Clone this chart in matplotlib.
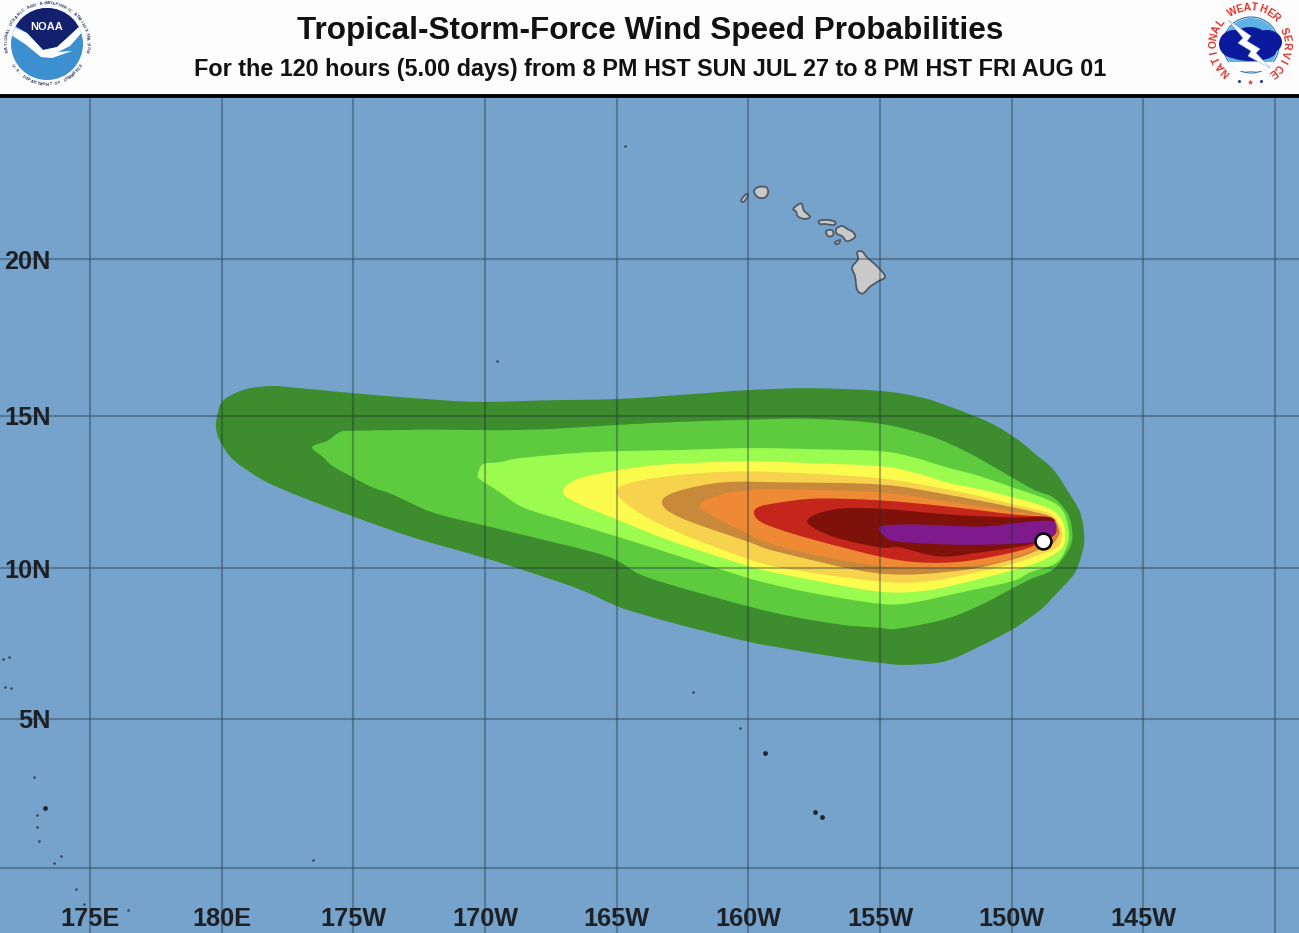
#!/usr/bin/env python3
# -*- coding: utf-8 -*-
"""
TROPICAL-STORM-FORCE WIND SPEED PROBABILITIES MAP
"""

# %% SETUP

import numpy as np
import matplotlib
matplotlib.use("Agg")
import matplotlib.pyplot as plt
from matplotlib.patches import Circle, Ellipse, PathPatch, Polygon
from matplotlib.path import Path

plt.rcParams['font.family'] = ['Liberation Sans', 'DejaVu Sans']

# %% DATA

title = "Tropical-Storm-Force Wind Speed Probabilities"
subtitle = "For the 120 hours (5.00 days) from 8 PM HST SUN JUL 27 to 8 PM HST FRI AUG 01"

# grid positions, longitude runs continuously past 180
grid_lon = [175, 180, 185, 190, 195, 200, 205, 210, 215, 220]
grid_lat = [0, 5, 10, 15, 20]
lon_labels = ["175E", "180E", "175W", "170W", "165W", "160W", "155W", "150W", "145W"]
lat_labels = ["5N", "10N", "15N", "20N"]

# probability bands, outermost first, traced clockwise from the western tip
band1_lon = [179.78, 179.86, 180.01, 180.43, 181.07, 181.95, 182.97, 184.99, 187.27, 189.69, 192.47, 195.01,
             197.40, 200.02, 202.34, 205.0, 206.52, 207.66, 209.18, 210.2, 210.9, 211.57,
             212.14, 212.6, 212.75, 212.71, 212.41, 211.84, 211.19, 210.58, 210.01, 208.68, 207.39,
             205.87, 205.0, 203.59, 201.7, 199.99, 197.4, 195.89, 195.01, 193.61, 191.71, 189.81,
             187.27, 184.99, 182.97, 181.72, 180.81, 180.31, 179.93]
band1_lat = [14.64, 15.13, 15.45, 15.7, 15.89, 15.96, 15.89, 15.73, 15.57, 15.45, 15.5, 15.54,
             15.67, 15.83, 15.89, 15.8, 15.6, 15.29, 14.77, 14.24, 13.75, 13.26,
             12.53, 11.84, 11.12, 10.63, 9.87, 9.3, 8.7, 8.3, 7.97, 7.37, 6.9,
             6.8, 6.87, 7.03, 7.3, 7.57, 8.13, 8.5, 8.75, 9.3, 9.87, 10.39,
             11.02, 11.71, 12.37, 12.83, 13.32, 13.68, 14.18]

band2_lon = [183.43, 184.0, 184.49, 184.99, 187.04, 188.02, 190.57, 192.47, 195.01, 197.40,
             200.02, 202.34, 205.0, 206.9, 208.3, 209.67, 210.81, 211.57, 212.1, 212.29, 212.22,
             211.57, 210.7, 210.01, 208.68, 207.39, 205.65, 205.0, 203.59, 201.7, 200.06,
             197.4, 195.89, 194.63, 191.71, 190.0, 188.02, 186.5, 185.74, 184.99, 184.22, 183.85]
band2_lat = [13.98, 14.18, 14.47, 14.51, 14.54, 14.55, 14.53, 14.57, 14.70, 14.80,
             14.87, 14.9, 14.74, 14.34, 13.82, 13.16, 12.6, 12.34, 11.84, 11.28, 10.72,
             9.97, 9.64, 9.33, 8.73, 8.3, 8.0, 8.03, 8.13, 8.4, 8.73,
             9.37, 9.8, 10.4, 11.05, 11.41, 11.84, 12.43, 12.66, 12.99, 13.36, 13.65]

band3_lon = [189.73, 189.92, 190.57, 191.33, 193.34, 195.01, 197.14, 199.99, 202.53, 205.0, 206.25,
             207.54, 208.8, 210.05, 211.34, 211.91, 212.14, 212.14, 211.72, 210.7, 209.99, 208.04,
             206.25, 205.0, 202.34, 200.44, 199.19, 196.91, 195.01, 193.11, 191.44, 190.57, 189.81]
band3_lat = [13.09, 13.42, 13.49, 13.62, 13.78, 13.85, 13.88, 13.95, 13.91, 13.85, 13.65,
             13.32, 13.03, 12.66, 12.27, 11.94, 11.38, 10.86, 10.2, 9.87, 9.57, 9.2,
             8.87, 8.83, 9.2, 9.57, 9.9, 10.53, 11.05, 11.55, 12.01, 12.5, 12.93]

band4_lon = [192.96, 193.49, 195.01, 196.91, 199.99, 202.53, 205.0, 206.25, 207.54, 208.8, 210.05,
             211.34, 211.84, 212.03, 211.95, 211.46, 210.58, 208.68, 206.79, 205.0, 202.34, 200.44,
             199.19, 196.91, 195.01, 193.61]
band4_lat = [12.5, 12.93, 13.22, 13.42, 13.52, 13.45, 13.36, 13.16, 12.83, 12.6, 12.34,
             12.0, 11.68, 11.22, 10.72, 10.39, 10.07, 9.63, 9.27, 9.23, 9.63, 9.97,
             10.3, 10.95, 11.61, 12.11]

band5_lon = [195.01, 196.15, 198.66, 201.2, 205.0, 207.54, 208.8, 210.05, 211.34, 211.72,
             211.91, 211.76, 211.08, 209.94, 208.68, 206.79, 205.0, 201.2, 199.19, 196.91, 195.5]
band5_lat = [12.6, 12.93, 13.16, 13.16, 12.96, 12.6, 12.37, 12.11, 11.84, 11.55,
             11.18, 10.72, 10.46, 10.13, 9.87, 9.57, 9.57, 10.03, 10.56, 11.35, 12.04]

band6_lon = [196.72, 197.29, 199.04, 201.2, 205.0, 207.54, 210.05, 211.46, 211.76, 211.8,
             211.53, 211.08, 210.05, 208.04, 205.0, 201.2, 199.95, 197.4]
band6_lat = [12.17, 12.53, 12.83, 12.83, 12.76, 12.43, 12.01, 11.71, 11.38, 11.12,
             10.79, 10.63, 10.3, 9.93, 9.83, 10.53, 10.89, 11.68]

band7_lon = [198.16, 198.92, 199.95, 201.2, 205.0, 207.54, 210.05, 211.34, 211.65, 211.68, 211.38,
             210.7, 209.44, 207.54, 205.0, 201.2, 199.42]
band7_lat = [12.04, 12.43, 12.56, 12.6, 12.5, 12.2, 11.88, 11.71, 11.45, 11.12, 10.79,
             10.56, 10.2, 10.03, 10.07, 10.72, 11.38]

band8_lon = [200.21, 200.44, 201.2, 202.61, 205.0, 207.54, 210.05, 211.46, 211.65, 211.65, 210.96,
             210.05, 208.15, 206.52, 205.0, 202.46, 201.2, 200.44]
band8_lat = [11.84, 12.04, 12.17, 12.3, 12.24, 12.04, 11.78, 11.68, 11.45, 11.12, 10.79,
             10.53, 10.23, 10.2, 10.39, 10.95, 11.28, 11.55]

band9_lon = [202.23, 203.21, 205.0, 207.54, 210.05, 211.46, 211.61, 211.61, 210.96, 210.32,
             208.8, 207.28, 205.76, 205.0, 203.21]
band9_lat = [11.55, 11.94, 11.97, 11.78, 11.68, 11.68, 11.28, 11.12, 10.86, 10.72,
             10.53, 10.39, 10.69, 10.69, 11.05]

band10_lon = [205.0, 206.25, 208.8, 210.32, 211.57, 211.61, 211.08, 209.44, 207.54, 205.65, 205.19]
band10_lat = [11.38, 11.45, 11.38, 11.51, 11.55, 11.12, 10.89, 10.79, 10.79, 10.89, 11.05]

bands = [(band1_lon, band1_lat), (band2_lon, band2_lat), (band3_lon, band3_lat),
         (band4_lon, band4_lat), (band5_lon, band5_lat), (band6_lon, band6_lat),
         (band7_lon, band7_lat), (band8_lon, band8_lat), (band9_lon, band9_lat),
         (band10_lon, band10_lat)]
band_colors = ['#3d8c2e', '#5ecb3e', '#9bfb4e', '#fbfb4d', '#f7d24c',
               '#c8893a', '#ee8a33', '#c4261b', '#7e1109', '#7f1a8c']

# storm position
storm_lon = [211.19]
storm_lat = [10.92]

# main Hawaiian islands
big_island_lon = [204.13, 204.32, 204.51, 204.89, 205.19, 204.92, 204.62, 204.35, 204.13, 204.05, 203.94, 204.16]
big_island_lat = [20.22, 20.25, 20.06, 19.78, 19.46, 19.30, 19.14, 18.92, 19.04, 19.46, 19.75, 20.0]
maui_lon = [203.33, 203.56, 203.75, 203.97, 204.05, 203.75, 203.56, 203.37]
maui_lat = [20.96, 21.05, 20.96, 20.86, 20.70, 20.57, 20.73, 20.80]
molokai_lon = [202.68, 202.99, 203.29, 203.25, 202.91, 202.72]
molokai_lat = [21.21, 21.24, 21.18, 21.08, 21.11, 21.11]
lanai_lon = [202.95, 203.18, 203.22, 203.03]
lanai_lat = [20.89, 20.92, 20.76, 20.73]
kahoolawe_lon = [203.29, 203.48, 203.44, 203.33]
kahoolawe_lat = [20.54, 20.61, 20.51, 20.48]
oahu_lon = [201.70, 202.0, 202.11, 202.34, 202.15, 201.89, 201.81]
oahu_lat = [21.59, 21.75, 21.53, 21.34, 21.27, 21.34, 21.50]
kauai_lon = [200.21, 200.37, 200.67, 200.75, 200.63, 200.37]
kauai_lat = [22.13, 22.26, 22.26, 22.10, 21.94, 21.94]
niihau_lon = [199.72, 199.91, 199.99, 199.83]
niihau_lat = [21.85, 22.04, 22.0, 21.81]
islands = [(big_island_lon, big_island_lat), (maui_lon, maui_lat), (molokai_lon, molokai_lat),
           (lanai_lon, lanai_lat), (kahoolawe_lon, kahoolawe_lat), (oahu_lon, oahu_lat),
           (kauai_lon, kauai_lat), (niihau_lon, niihau_lat)]

# little atolls scattered over the rest of the map
atoll_lon = [195.32, 190.46, 197.9, 199.68, 171.68, 171.92, 172.0, 171.77,
             172.87, 172.98, 172.98, 173.06, 173.9, 173.63, 174.47, 174.77, 176.44, 183.47]
atoll_lat = [23.53, 16.75, 5.9, 4.7, 6.98, 7.05, 6.03, 6.07,
             3.05, 1.78, 1.38, 0.9, 0.4, 0.17, -0.7, -1.2, -1.4, 0.27]
# the few that show as a proper dot
big_atoll_lon = [200.63, 202.53, 202.8, 173.29]
big_atoll_lat = [3.86, 1.88, 1.71, 2.0]


# %% HELPERS

def merc(lat):
    return np.degrees(np.log(np.tan(np.pi / 4 + np.radians(np.asarray(lat, dtype=float)) / 2)))


def inv_merc(y):
    return np.degrees(2 * np.arctan(np.exp(np.radians(np.asarray(y, dtype=float)))) - np.pi / 2)


def rounded_outline(lon, lat):
    # closed path through the read points, with catmull-rom curves between them
    pts = np.column_stack([lon, lat])
    n = len(pts)
    verts = [pts[0]]
    codes = [Path.MOVETO]
    for i in range(n):
        p0, p1, p2, p3 = pts[i - 1], pts[i], pts[(i + 1) % n], pts[(i + 2) % n]
        verts += [p1 + (p2 - p0) / 6, p2 - (p3 - p1) / 6, p2]
        codes += [Path.CURVE4, Path.CURVE4, Path.CURVE4]
    return Path(np.array(verts), codes)


def ring_text(ax, text, cx, cy, r, start, end, size, color, outward=True):
    # one rotated letter at a time round a circle, angles in degrees
    for ch, a in zip(text, np.linspace(start, end, len(text))):
        rad = np.radians(a)
        rot = a - 90 if outward else a + 90
        ax.text(cx + r * np.cos(rad), cy - r * np.sin(rad), ch, fontsize=size, color=color,
                rotation=rot, rotation_mode='anchor', ha='center', va='center',
                fontweight='bold')


# %% FIGURE

W, H = 1299, 933
header_px = 98
fig = plt.figure(figsize=(W / 100, H / 100), dpi=100, facecolor='#fdfdfd')

ax = fig.add_axes([0, 0, 1, (H - header_px) / H], facecolor='#76a3cb')
ax.set_yscale('function', functions=(merc, inv_merc))
ax.set_xlim(171.58, 220.91)
ax.set_ylim(-2.18, 25.0)
ax.set_xticks([])
ax.set_yticks([])
ax.minorticks_off()
for s in ax.spines.values():
    s.set_visible(False)

for (lon, lat), c in zip(bands, band_colors):
    ax.add_patch(PathPatch(rounded_outline(lon, lat), facecolor=c, edgecolor='none', zorder=2))

for lon, lat in islands:
    ax.add_patch(PathPatch(rounded_outline(lon, lat), facecolor='#c9c9c9', edgecolor='#4e5a66',
                           linewidth=1.3, zorder=3))
ax.scatter(atoll_lon, atoll_lat, s=3.5, color='#33465a', linewidth=0, zorder=3)
ax.scatter(big_atoll_lon, big_atoll_lat, s=12, color='#1c2733', linewidth=0, zorder=3)

for g in grid_lon:
    ax.axvline(g, color='#1f2d3a', alpha=0.36, linewidth=1.5, zorder=4)
for g in grid_lat:
    ax.axhline(g, color='#1f2d3a', alpha=0.36, linewidth=1.5, zorder=4)

ax.scatter(storm_lon, storm_lat, s=130, facecolor='white', edgecolor='black', linewidth=1.8, zorder=5)

# labels sit inside the map, along the bottom and left edges
xtrans = ax.get_xaxis_transform()
ytrans = ax.get_yaxis_transform()
for g, lab in zip(grid_lon, lon_labels):
    ax.text(g, 0.0195, lab, transform=xtrans, ha='center', va='center_baseline',
            fontsize=18.2, fontweight='bold', color='#1d2126', zorder=6)
for g, lab in zip(grid_lat[1:], lat_labels):
    ax.text(50.5 / W, g, lab, transform=ytrans, ha='right', va='center_baseline',
            fontsize=18.2, fontweight='bold', color='#1d2126', zorder=6)

# %% HEADER

hd = fig.add_axes([0, (H - header_px) / H, 1, header_px / H])
hd.set_xlim(0, W)
hd.set_ylim(header_px, 0)
hd.axis('off')
hd.axhline(96, color='black', linewidth=2.8)

hd.text(650, 28, title, ha='center', va='center_baseline', fontsize=22.67, fontweight='bold', color='#111111')
hd.text(650, 67, subtitle, ha='center', va='center_baseline', fontsize=16.8, fontweight='bold', color='#111111')

# NOAA logo
disk = Circle((47, 44), 36, facecolor='#3c8fd0', edgecolor='none')
hd.add_patch(disk)
navy = Polygon([(5, 0), (90, 0), (82, 24), (67, 38), (57, 47), (43, 50), (27, 33), (10, 22)],
               facecolor='#12206e', edgecolor='none')
hd.add_patch(navy)
navy.set_clip_path(disk)
gull = Polygon([(8, 24), (27, 33), (43, 50), (57, 47), (67, 38), (82, 24), (84, 30), (70, 46),
                (58, 52), (72, 51), (52, 58), (41, 57), (25, 44), (8, 33)],
               facecolor='white', edgecolor='none')
hd.add_patch(gull)
gull.set_clip_path(disk)
hd.text(47, 27, "NOAA", ha='center', va='center', fontsize=8, fontweight='bold', color='white')
ring_text(hd, "NATIONAL OCEANIC AND ATMOSPHERIC ADMINISTRATION", 47, 44, 40.5, 190, -10, 2.9, '#2a3560')
ring_text(hd, "U.S. DEPARTMENT OF COMMERCE", 47, 44, 40.5, 212, 328, 2.9, '#2a3560', outward=False)

# NWS logo
cx, cy = 1250, 44
hd.add_patch(Circle((cx + 1, cy + 1), 28, facecolor='white', edgecolor='#2a6fb5', linewidth=0.8))
hd.add_patch(Circle((cx + 1, cy + 1), 27, facecolor='#5fb3e4', edgecolor='none'))
hd.add_patch(Polygon([(cx - 24, cy + 18), (cx + 26, cy + 18), (cx + 14, cy + 27), (cx - 12, cy + 27)],
                     facecolor='white', edgecolor='none'))
for ex, ey, ew, eh in [(-16, 0, 30, 28), (0, -6, 34, 22), (17, -2, 30, 24), (1, 8, 50, 18)]:
    hd.add_patch(Ellipse((cx + ex, cy + ey), ew, eh, facecolor='#0b1a9a', edgecolor='none'))
hd.add_patch(Polygon([(cx - 22, cy - 24), (cx + 1, cy - 8), (cx - 3, cy - 3), (cx + 10, cy + 5),
                      (cx + 6, cy + 9), (cx + 20, cy + 24), (cx - 2, cy + 12), (cx + 1, cy + 7),
                      (cx - 12, cy - 1), (cx - 7, cy - 6)],
                     facecolor='white', edgecolor='#9fb4d0', linewidth=0.4))
ring_text(hd, "NATIONAL WEATHER SERVICE", cx, cy, 36.5, 229, -52, 7.4, '#e0312a')
hd.scatter([cx - 11, cx + 11], [cy + 37, cy + 37], s=5, color='#2540a0', linewidth=0)
hd.scatter([cx], [cy + 38], s=18, marker='*', color='#e0312a', linewidth=0)

plt.savefig('out.png', dpi=100, facecolor=fig.get_facecolor())
